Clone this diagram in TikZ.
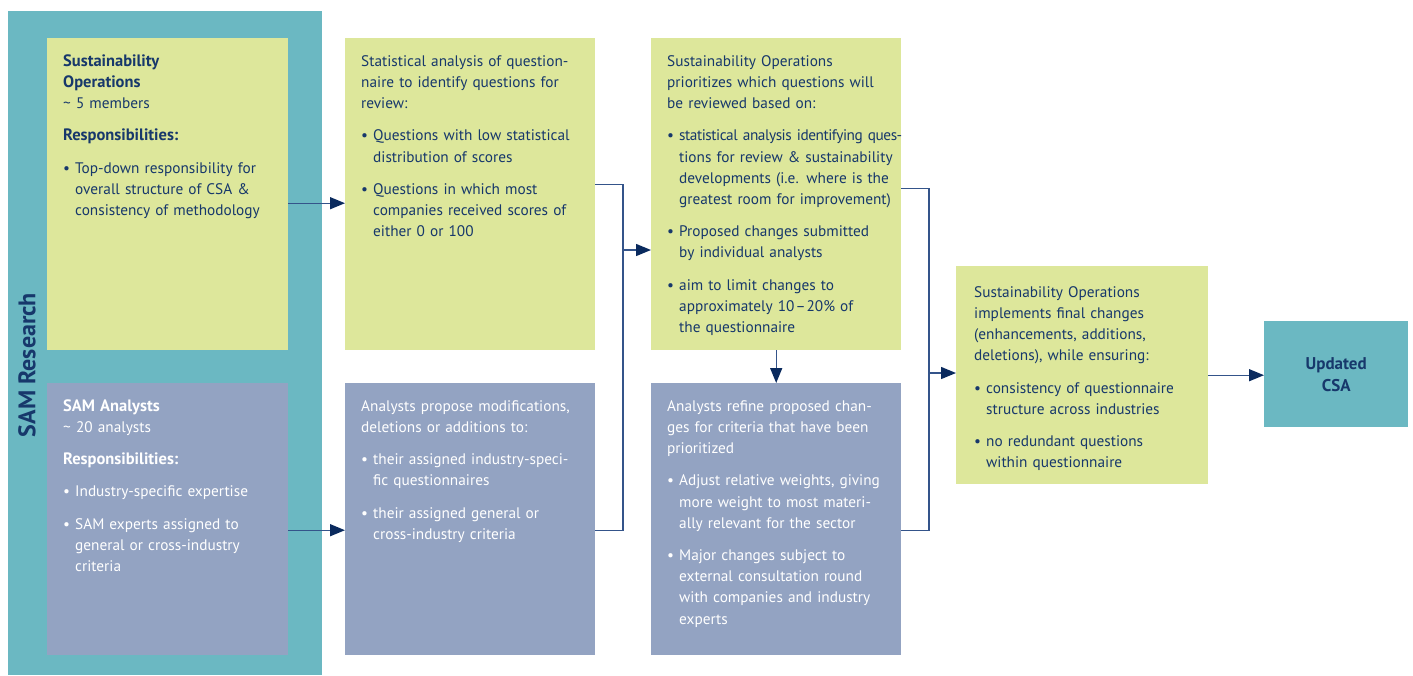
\documentclass[tikz,border=0pt]{standalone}
\usepackage{fontspec}
\setmainfont{PT Sans}
\usetikzlibrary{arrows.meta}

\definecolor{samteal}{HTML}{6BB8C2}
\definecolor{opsgreen}{HTML}{DDE79B}
\definecolor{anagrey}{HTML}{93A3C2}
\definecolor{navy}{HTML}{17386B}
\definecolor{linkc}{HTML}{34548A}
\definecolor{tipc}{HTML}{0A2A5E}

\newcommand\gap{\par\vspace{11pt}}
\newcommand\bitem{\gap\noindent\hangindent=12pt\hangafter=1\rightskip=-30pt plus 1fil\relax
  \makebox[12pt][l]{\textbullet}}
\newcommand\head[1]{{\fontsize{16.5}{21.2}\selectfont\bfseries #1}}
\newcommand\tight[1]{{\addfontfeature{LetterSpace=-3}#1}}

\tikzset{
  box/.style={anchor=north west, inner xsep=16pt, inner ysep=0pt, align=left,
    font=\fontsize{15.3}{21.2}\selectfont, text height=28pt},
  ops/.style={box, fill=opsgreen, text=navy},
  ana/.style={box, fill=anagrey, text=white},
  link/.style={draw=linkc, line width=1.4pt},
  arr/.style={link, -{Triangle[length=15pt,width=12pt,color=tipc]}},
}

\begin{document}
\begin{tikzpicture}[x=1pt,y=-1pt]
\useasboundingbox (0,0) rectangle (1413,675);

% SAM Research panel
\node[fill=samteal, anchor=north west, inner sep=0pt, minimum width=314pt, minimum height=664pt] (sam) at (8,11) {};
\node[rotate=90, text=navy, font=\fontsize{24}{26}\selectfont\bfseries] (samlabel) at (27,365) {SAM Research};

\node[ops, text width=209pt, text depth=284pt] (opsteam) at (47,38)
  {\head{Sustainability}\newline\head{Operations}\newline\textasciitilde\ 5 members\gap
   \head{Responsibilities:}
   \bitem Top-down responsibility for\newline overall structure of CSA \&\newline consistency of methodology\par};
\node[ana, text width=209pt, text depth=244pt] (anateam) at (47,383)
  {\head{SAM Analysts}\newline\textasciitilde\ 20 analysts\gap
   \head{Responsibilities:}
   \bitem Industry-specific expertise
   \bitem SAM experts assigned to\newline general or cross-industry\newline criteria\par};

% step 1
\node[ops, text width=218pt, text depth=284pt] (stats) at (345,38)
  {Statistical analysis of question-\newline naire to identify questions for\newline review:
   \bitem Questions with low statistical\newline distribution of scores
   \bitem Questions in which most\newline companies received scores of\newline either 0 or 100\par};
\node[ana, text width=218pt, text depth=244pt] (propose) at (345,383)
  {Analysts propose modifications,\newline deletions or additions to:
   \bitem their assigned industry-speci-\newline fic questionnaires
   \bitem their assigned general or\newline cross-industry criteria\par};

% step 2
\node[ops, text width=218pt, text depth=284pt] (prio) at (651,38)
  {Sustainability Operations\newline prioritizes which questions will\newline be reviewed based on:
   \bitem \tight{statistical analysis identifying ques-}\newline tions for review \& sustainability\newline developments (i.e. where is the\newline greatest room for improvement)
   \bitem Proposed changes submitted\newline by individual analysts
   \bitem aim to limit changes to\newline approximately 10\kern1pt--\kern1pt20\% of\newline the questionnaire\par};
\node[ana, text width=218pt, text depth=244pt] (refine) at (651,383)
  {Analysts refine proposed chan-\newline ges for criteria that have been\newline prioritized
   \bitem Adjust relative weights, giving\newline more weight to most materi-\newline ally relevant for the sector
   \bitem Major changes subject to\newline external consultation round\newline with companies and industry\newline experts\par};

% step 3
\node[ops, inner xsep=18pt, text width=216pt, text height=31pt, text depth=187pt] (implement) at (956,266)
  {Sustainability Operations\newline implements final changes\newline (enhancements, additions,\newline deletions), while ensuring:
   \bitem consistency of questionnaire\newline structure across industries
   \bitem no redundant questions\newline within questionnaire\par};
\node[fill=samteal, text=navy, anchor=north west, minimum width=144pt, minimum height=106pt, align=center,
  font=\fontsize{17}{22}\selectfont\bfseries] (csa) at (1264,321) {Updated\\CSA};

\coordinate (a1) at ([yshift=-9pt]opsteam.east);
\coordinate (a2) at ([yshift=-11pt]anateam.east);
\coordinate (j1) at (623,250);
\coordinate (j2) at (929,373);

\draw[arr] (a1) -- (stats.west |- a1);
\draw[arr] (a2) -- (propose.west |- a2);
\draw[link] ([yshift=10pt]stats.east) -| (j1) |- ([yshift=-11pt]propose.east);
\draw[arr] (j1) -- (prio.west |- j1);
\draw[arr] (prio.south) -- (refine.north);
\draw[link] ([yshift=6pt]prio.east) -| (j2) |- ([yshift=-11pt]refine.east);
\draw[arr] (j2) -- (implement.west |- j2);
\draw[arr] (implement.east) -- (csa.west |- implement.east);
\end{tikzpicture}
\end{document}
